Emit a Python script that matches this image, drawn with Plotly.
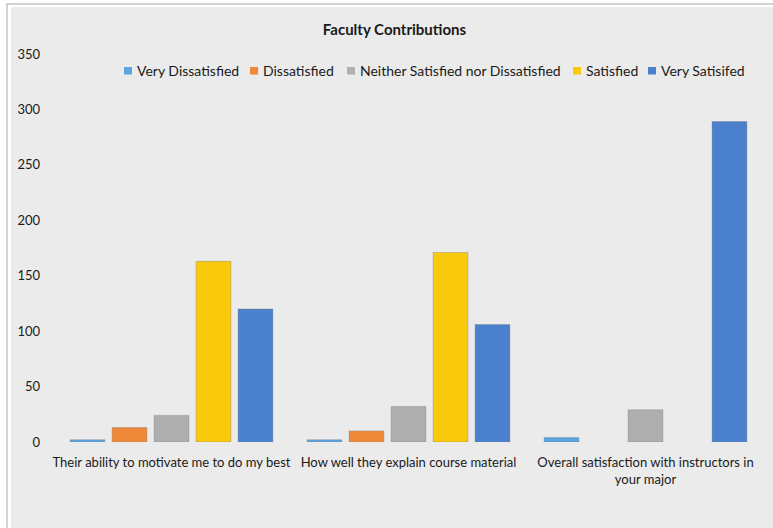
import plotly.graph_objects as go

# --- data -------------------------------------------------------------
categories = [
    "Their ability to motivate me to do my best",
    "How well they explain course material",
    "Overall satisfaction with instructors in<br>your major",
]
series_names = [
    "Very Dissatisfied",
    "Dissatisfied",
    "Neither Satisfied nor Dissatisfied",
    "Satisfied",
    "Very Satisifed",
]
very_dissatisfied = [2, 2, 4]
dissatisfied = [13, 10, 0]
neither = [24, 32, 29]
satisfied = [163, 171, 0]
very_satisfied = [120, 106, 289]
y_ticks = [0, 50, 100, 150, 200, 250, 300, 350]

# --- style ------------------------------------------------------------
colors = ["#5BA5E0", "#F0883A", "#AFAFAF", "#F9C90C", "#4A80CC"]
FONT = "Lato"
W, H = 773, 528
ML, MR, MT, MB = 53, 9, 54, 86


def px_x(px):
    return (px - ML) / (W - ML - MR)


def px_y(py):
    return (H - MB - py) / (H - MT - MB)


fig = go.Figure()
for name, vals, col in zip(
    series_names,
    [very_dissatisfied, dissatisfied, neither, satisfied, very_satisfied],
    colors,
):
    fig.add_trace(
        go.Bar(
            name=name,
            x=categories,
            y=vals,
            marker=dict(
                color=col,
                # soft edge on drawn bars only; empty bars stay invisible
                line=dict(color="rgba(120,120,120,0.35)",
                          width=[1 if v > 0 else 0 for v in vals]),
            ),
            showlegend=False,
        )
    )

shapes = [
    # chart area fill and frame
    dict(type="rect", xref="paper", yref="paper", layer="below",
         x0=px_x(11), x1=px_x(790), y0=px_y(540), y1=px_y(7),
         fillcolor="#EBEBEB", line=dict(width=0)),
    dict(type="rect", xref="paper", yref="paper", layer="below",
         x0=px_x(7), x1=px_x(790), y0=px_y(540), y1=px_y(4),
         fillcolor="rgba(0,0,0,0)", line=dict(color="#C4C4C4", width=1.5)),
]

# legend row: square swatch followed by its label
legend_x = [124, 250, 347, 573, 648]
annotations = []
for name, col, lx in zip(series_names, colors, legend_x):
    shapes.append(dict(type="rect", xref="paper", yref="paper",
                       x0=px_x(lx), x1=px_x(lx + 8), y0=px_y(74.5), y1=px_y(67),
                       fillcolor=col, line=dict(width=0)))
    annotations.append(dict(xref="paper", yref="paper", x=px_x(lx + 11), y=px_y(71),
                            xanchor="left", yanchor="middle", showarrow=False,
                            text=name, font=dict(family=FONT, size=14, color="#1A1A1A")))

fig.update_layout(
    width=W,
    height=H,
    margin=dict(l=ML, r=MR, t=MT, b=MB),
    paper_bgcolor="white",
    plot_bgcolor="rgba(0,0,0,0)",
    barmode="group",
    bargap=0.114,
    bargroupgap=0.17,
    title=dict(text="<b>Faculty Contributions</b>", x=394.5 / W, xref="container",
               y=1 - 30 / H, yref="container", xanchor="center", yanchor="middle",
               font=dict(family=FONT, size=15, color="#1A1A1A")),
    font=dict(family=FONT, size=13, color="#1A1A1A"),
    xaxis=dict(showgrid=False, zeroline=False, showline=False, ticks="",
               ticklabelstandoff=11, tickfont=dict(family=FONT, size=13, color="#1A1A1A")),
    yaxis=dict(range=[0, 350], tickvals=y_ticks, showgrid=False, zeroline=False,
               showline=False, ticks="", ticklabelstandoff=12,
               tickfont=dict(family=FONT, size=13, color="#1A1A1A")),
    shapes=shapes,
    annotations=annotations,
)

fig.write_html("out.html")
